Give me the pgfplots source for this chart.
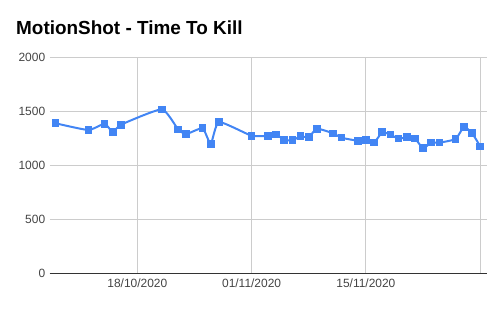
\documentclass[border=0pt]{standalone}
\usepackage{fontspec}
\setmainfont{Liberation Sans}
\usepackage{pgfplots}
\pgfplotsset{compat=1.18}
\definecolor{gblue}{HTML}{4285F4}
\definecolor{gridc}{HTML}{CCCCCC}
\definecolor{axc}{HTML}{333333}
\definecolor{labc}{HTML}{444444}
\begin{document}
\begin{tikzpicture}[x=1bp,y=1bp]
\useasboundingbox (0,0) rectangle (502,310);
\node[anchor=base west, font=\bfseries\fontsize{19}{22}\selectfont, inner sep=0] at (16,276) {MotionShot - Time To Kill};
\begin{axis}[at={(49.7bp,36.7bp)}, anchor=south west, scale only axis,
  width=437bp, height=216.3bp,
  xmin=-10.73, xmax=42.8, ymin=0, ymax=2000,
  axis lines*=left,
  x axis line style={draw=axc, line width=1pt},
  y axis line style={draw=none},
  xtick={0,14,28,42}, xticklabels={18/10/2020,01/11/2020,15/11/2020,{}},
  ytick={0,500,1000,1500,2000},
  grid=major, major grid style={draw=gridc, line width=0.8pt},
  tick style={draw=none},
  ticklabel style={font=\fontsize{12}{14}\selectfont, text=labc},
  yticklabel style={/pgf/number format/1000 sep={}, /pgf/number format/assume math mode=true, xshift=-1bp},
  xticklabel style={yshift=-2bp},
  clip=false,
]
\addplot[gblue, line width=2bp, smooth, tension=0.3, mark=square*, mark size=3.3bp, mark options={fill=gblue, draw=gblue, line width=0pt}] coordinates {
(-10,1387) (-6,1325) (-4,1383) (-3,1304) (-2,1374) (3,1516) (5,1331) (6,1288) (8,1341) (9,1196) (10,1399)
(14,1272) (16,1272) (17,1282) (18,1235) (19,1230) (20,1267) (21,1258) (22,1337) (24,1294) (25,1254)
(27,1226) (28,1235) (29,1208) (30,1304) (31,1282) (32,1245) (33,1258) (34,1248) (35,1156) (36,1208)
(37,1208) (39,1242) (40,1353) (41,1297) (42,1174)
};
\end{axis}
\end{tikzpicture}
\end{document}
